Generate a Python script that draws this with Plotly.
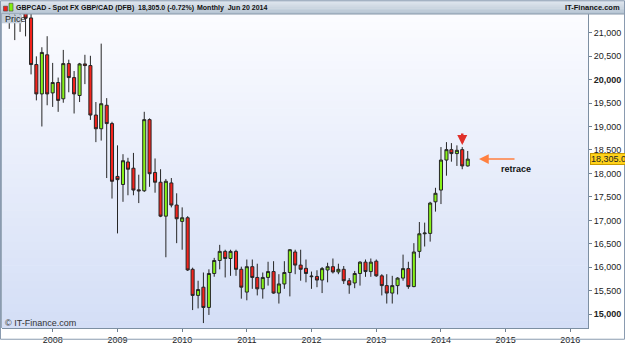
import plotly.graph_objects as go

# ---------------- data ----------------
months = [
    "2007-05", "2007-06", "2007-07", "2007-08", "2007-09", "2007-10", "2007-11", "2007-12",
    "2008-01", "2008-02", "2008-03", "2008-04", "2008-05", "2008-06", "2008-07", "2008-08",
    "2008-09", "2008-10", "2008-11", "2008-12",
    "2009-01", "2009-02", "2009-03", "2009-04", "2009-05", "2009-06", "2009-07", "2009-08",
    "2009-09", "2009-10", "2009-11", "2009-12",
    "2010-01", "2010-02", "2010-03", "2010-04", "2010-05", "2010-06", "2010-07", "2010-08",
    "2010-09", "2010-10", "2010-11", "2010-12",
    "2011-01", "2011-02", "2011-03", "2011-04", "2011-05", "2011-06", "2011-07", "2011-08",
    "2011-09", "2011-10", "2011-11", "2011-12",
    "2012-01", "2012-02", "2012-03", "2012-04", "2012-05", "2012-06", "2012-07", "2012-08",
    "2012-09", "2012-10", "2012-11", "2012-12",
    "2013-01", "2013-02", "2013-03", "2013-04", "2013-05", "2013-06", "2013-07", "2013-08",
    "2013-09", "2013-10", "2013-11", "2013-12",
    "2014-01", "2014-02", "2014-03", "2014-04", "2014-05", "2014-06",
]
opens = [
    21700, 21500, 21700, 21600, 21312, 20319, 19694, 20527,
    19715, 19937, 19590, 20340, 20042, 19660, 20333, 20298,
    19244, 18952, 19452, 19062,
    17937, 17765, 18244, 18111, 17650, 17631, 19146, 18021,
    17813, 17090, 17798, 17327,
    16979, 17056, 15958, 15402, 15577, 15146, 15869, 16146,
    16340, 16188, 16340, 15958,
    15473, 16014, 15785, 15542, 15785, 15910, 15452, 15646,
    15890, 16327, 16048, 15979,
    15800, 15806, 15729, 15944, 16014, 15902, 15958, 15715,
    15667, 15869, 16111, 15910,
    16131, 15819, 15611, 15452, 15611, 15771, 15973, 15590,
    16340, 16715, 16723, 17396,
    17646, 18285, 18507, 18423, 18507, 18160,
]
highs = [
    21900, 21800, 21900, 21800, 21480, 20494, 20688, 20923,
    20354, 20042, 20631, 20423, 20181, 20354, 20527, 20506,
    19521, 20765, 19604, 19100,
    18598, 18410, 18333, 18437, 17973, 19313, 19173, 18319,
    18090, 17882, 17902, 17577,
    17277, 17090, 15993, 15715, 15890, 15958, 16202, 16479,
    16375, 16375, 16375, 16014,
    16167, 16167, 16077, 15890, 16119, 16131, 15854, 16131,
    16390, 16375, 16375, 16167,
    15910, 15938, 16007, 16098, 16188, 16077, 16028, 15771,
    15923, 16131, 16167, 16188,
    16167, 15854, 15854, 15819, 15790, 16271, 16119, 16515,
    16965, 16952, 17396, 17694,
    18562, 18667, 18646, 18598, 18562, 18479,
]
lows = [
    21080, 20840, 21015, 20920, 20110, 19556, 19000, 19452,
    19417, 19312, 19506, 19729, 19277, 19521, 19902, 19140,
    18667, 18700, 17902, 17465,
    16723, 17396, 17535, 17535, 17369, 17604, 17715, 17590,
    17069, 16215, 17277, 16515,
    16375, 15923, 15090, 15125, 14813, 14986, 15800, 15958,
    15785, 15819, 15819, 15333,
    15298, 15542, 15402, 15333, 15611, 15437, 15229, 15542,
    15381, 15854, 15715, 15681,
    15542, 15577, 15452, 15681, 15869, 15854, 15646, 15437,
    15556, 15611, 15798, 15798,
    15798, 15402, 15229, 15229, 15423, 15715, 15542, 15577,
    16202, 16444, 16548, 17187,
    17348, 17952, 18250, 18160, 18090, 18146,
]
closes = [
    21550, 21650, 21450, 21306, 20319, 19694, 20577, 19694,
    19937, 19556, 20340, 20042, 19694, 20333, 20298, 19244,
    18952, 19485, 19062, 17833,
    17868, 18271, 18090, 17646, 17630, 19146, 17994, 17813,
    17090, 17833, 17327, 17035,
    17056, 15944, 15402, 15527, 15146, 15869, 16146, 16340,
    16188, 16340, 15958, 15577,
    16014, 15785, 15542, 15785, 15910, 15452, 15646, 15890,
    16375, 16048, 15958, 15869,
    15812, 15729, 15973, 16014, 15902, 15958, 15715, 15625,
    15869, 16111, 15910, 16111,
    15819, 15611, 15452, 15611, 15771, 15973, 15590, 16327,
    16715, 16730, 17369, 17577,
    18285, 18507, 18423, 18493, 18160, 18305,
]

y_ticks = [15000, 15500, 16000, 16500, 17000, 17500, 18000, 18500, 19000, 19500, 20000, 20500, 21000]
y_labels = ["<b>15,000</b>", "15,500", "16,000", "16,500", "17,000", "17,500", "18,000",
            "18,500", "19,000", "19,500", "<b>20,000</b>", "20,500", "21,000"]
x_years = ["2008", "2009", "2010", "2011", "2012", "2013", "2014", "2015", "2016"]
last_price = 18305.0
signal_month = "2014-05"

dates = [m + "-01" for m in months]

# ---------------- geometry (pixels) ----------------
W, H = 625, 347
L_PX, R_PX, T_PX, B_PX = 2, 588, 14, 335
PW, PH = R_PX - L_PX, B_PX - T_PX


def px(xp):
    return (xp - L_PX) / PW


def py(yp):
    return (B_PX - yp) / PH


FONT = "Liberation Sans, Arial, sans-serif"

fig = go.Figure()
fig.add_trace(go.Candlestick(
    x=dates, open=opens, high=highs, low=lows, close=closes,
    increasing=dict(fillcolor="#86f218", line=dict(color="#262626", width=1)),
    decreasing=dict(fillcolor="#f4231c", line=dict(color="#262626", width=1)),
    whiskerwidth=0, showlegend=False, hoverinfo="skip",
))

shapes = []


def lerp(c1, c2, t):
    return "#%02x%02x%02x" % tuple(int(round(a + (b - a) * t)) for a, b in zip(c1, c2))


# plot background gradient
top_c, bot_c = (0xfb, 0xfc, 0xff), (0xd4, 0xde, 0xf6)
n = 40
for k in range(n):
    y0 = T_PX + PH * k / n
    y1 = T_PX + PH * (k + 1) / n + 0.6
    shapes.append(dict(type="rect", xref="paper", yref="paper", layer="below",
                       x0=0, x1=1, y0=py(min(y1, B_PX)), y1=py(y0),
                       fillcolor=lerp(top_c, bot_c, (k + 0.5) / n), line=dict(width=0)))

# header gradient bar
h_top, h_bot = (0xe2, 0xe9, 0xf0), (0xb4, 0xc3, 0xd2)
nh = 7
for k in range(nh):
    y0 = 14 * k / nh
    y1 = 14 * (k + 1) / nh + 0.5
    shapes.append(dict(type="rect", xref="paper", yref="paper", layer="above",
                       x0=px(0), x1=px(W), y0=py(min(y1, 14)), y1=py(y0),
                       fillcolor=lerp(h_top, h_bot, (k + 0.5) / nh), line=dict(width=0)))
shapes.append(dict(type="line", xref="paper", yref="paper", x0=px(0), x1=px(W),
                   y0=py(14), y1=py(14), line=dict(color="#8596a8", width=1)))

# header icon (small candles)
shapes.append(dict(type="rect", xref="paper", yref="paper", x0=px(3.5), x1=px(7.5),
                   y0=py(11), y1=py(6), fillcolor="#f0201a", line=dict(color="#444", width=0.6)))
shapes.append(dict(type="rect", xref="paper", yref="paper", x0=px(9), x1=px(13),
                   y0=py(11), y1=py(3), fillcolor="#80ee10", line=dict(color="#444", width=0.6)))

# "Price" label box
shapes.append(dict(type="rect", xref="paper", yref="paper", x0=px(1), x1=px(22),
                   y0=py(23.5), y1=py(14.5), fillcolor="#c3cedb", line=dict(width=0)))

# outer frame
shapes.append(dict(type="rect", xref="paper", yref="paper", x0=px(0.5), x1=px(W - 0.5),
                   y0=py(H - 0.5), y1=py(0.5), line=dict(color="#8a9bb0", width=1)))
# left plot border
shapes.append(dict(type="line", xref="paper", yref="paper", x0=px(1.5), x1=px(1.5),
                   y0=0, y1=1, line=dict(color="#9aaabb", width=1)))

HDR = dict(family=FONT, size=7, color="#111")
annotations = [
    dict(xref="paper", yref="paper", x=px(14), y=py(7.5), xanchor="left", yanchor="middle",
         text="<b>GBPCAD - Spot FX GBP/CAD (DFB)</b>", showarrow=False, font=HDR),
    dict(xref="paper", yref="paper", x=px(136), y=py(7.5), xanchor="left", yanchor="middle",
         text="<b>18,305.0 (-0.72%)</b>", showarrow=False, font=HDR),
    dict(xref="paper", yref="paper", x=px(195), y=py(7.5), xanchor="left", yanchor="middle",
         text="<b>Monthly  Jun 20 2014</b>", showarrow=False, font=HDR),
    dict(xref="paper", yref="paper", x=px(622), y=py(7.5), xanchor="right", yanchor="middle",
         text="<b>IT-Finance.com</b>", showarrow=False, font=dict(family=FONT, size=7.5, color="#111")),
    dict(xref="paper", yref="paper", x=px(2.5), y=py(19), xanchor="left", yanchor="middle",
         text="Price", showarrow=False, font=dict(family=FONT, size=9, color="#222")),
    dict(xref="paper", yref="paper", x=px(3), y=py(330), xanchor="left", yanchor="middle",
         text="© IT-Finance.com", showarrow=False, font=dict(family=FONT, size=9, color="#333")),
    # last price tag
    dict(xref="paper", yref="y", x=px(590), y=last_price, xanchor="left", yanchor="middle",
         text="18,305.0", showarrow=False, bgcolor="#ffd21a", bordercolor="#c89a00",
         borderwidth=1, borderpad=0, font=dict(family=FONT, size=9, color="#222")),
    # red signal arrow above May 2014 candle
    dict(x=signal_month + "-01", y=highs[months.index(signal_month)], yshift=2,
         ax=0, ay=-13, text="", showarrow=True, arrowhead=2, arrowsize=0.8,
         arrowwidth=2.5, arrowcolor="#e0302a", standoff=0),
    # orange retrace arrow
    dict(xref="paper", yref="y", x=px(479), y=last_price, ax=37, ay=0,
         text="", showarrow=True, arrowhead=2, arrowsize=1.3, arrowwidth=1.5,
         arrowcolor="#ff8040"),
    dict(xref="paper", yref="y", x=px(516), y=last_price, yshift=-10, xanchor="center",
         yanchor="middle", text="<b>retrace</b>", showarrow=False,
         font=dict(family=FONT, size=9, color="#111")),
]

fig.update_layout(
    width=W, height=H,
    margin=dict(l=L_PX, r=W - R_PX, t=T_PX, b=H - B_PX, pad=0),
    paper_bgcolor="#ffffff", plot_bgcolor="rgba(0,0,0,0)",
    shapes=shapes, annotations=annotations,
    showlegend=False, boxgap=0.12,
    xaxis=dict(
        type="date", range=["2007-03-21", "2016-04-10"],
        rangeslider=dict(visible=False),
        tickvals=[y + "-01-01" for y in x_years], ticktext=x_years,
        ticks="outside", ticklen=3, tickcolor="#6d7f92",
        showline=True, linecolor="#7d8fa2", linewidth=1, mirror=False,
        showgrid=False, zeroline=False,
        tickfont=dict(family=FONT, size=9, color="#222"),
        fixedrange=True,
    ),
    yaxis=dict(
        side="right", range=[14708, 21396],
        tickvals=y_ticks, ticktext=y_labels,
        ticks="outside", ticklen=3, tickcolor="#6d7f92",
        showline=True, linecolor="#7d8fa2", linewidth=1,
        showgrid=False, zeroline=False,
        tickfont=dict(family=FONT, size=9, color="#222"),
        fixedrange=True,
    ),
)

fig.write_html("out.html")
